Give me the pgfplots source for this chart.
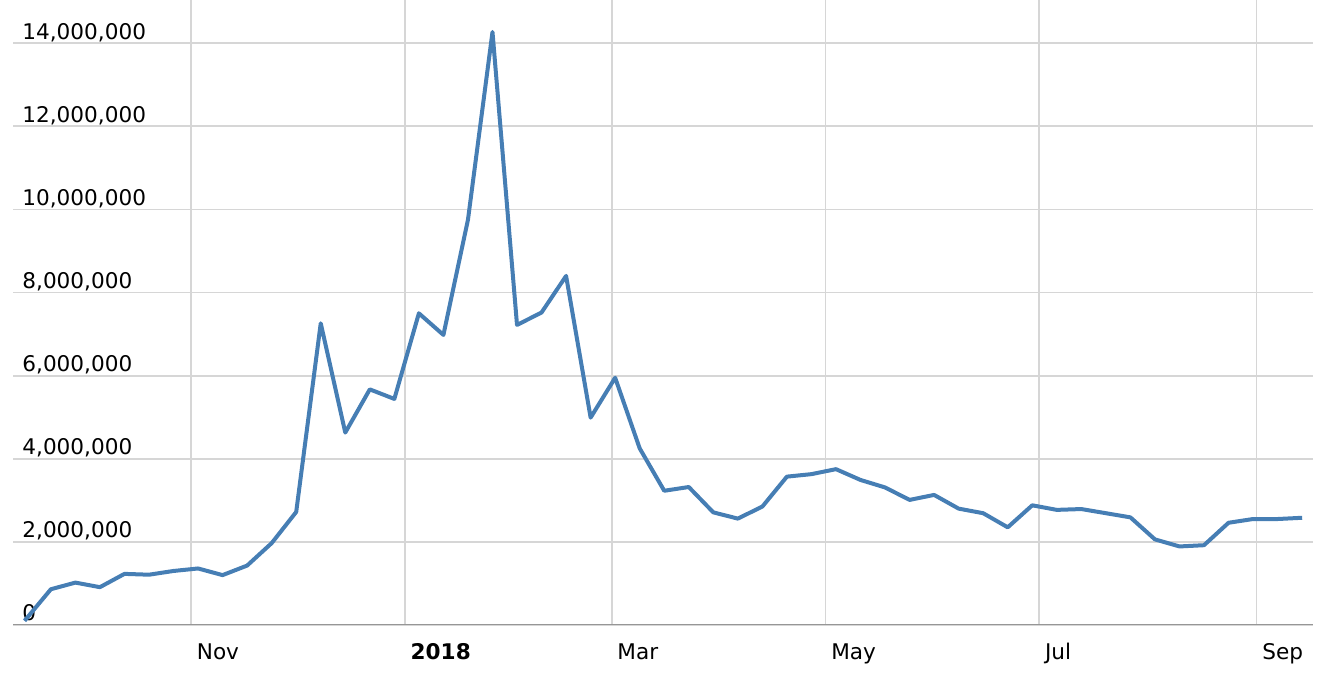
\documentclass[border=0pt]{standalone}
\usepackage{fontspec}
\setmainfont{DejaVu Sans}
\usepackage{pgfplots}
\pgfplotsset{compat=1.18}
\definecolor{lineblue}{RGB}{70,126,180}
\definecolor{gridgray}{RGB}{214,214,214}
\definecolor{axisgray}{RGB}{150,150,150}
\begin{document}
\begin{tikzpicture}[x=1pt,y=1pt]
\begin{axis}[
  at={(0,0)}, anchor=south west,
  scale only axis,
  width=650pt, height=312.5pt,
  xmin=-50.8, xmax=320.1,
  ymin=0, ymax=15040000,
  axis line style={draw=none},
  major tick length=0pt,
  xtick={0,61,120,181,242,304},
  xticklabels={Nov,\textbf{2018},Mar,May,Jul,Sep},
  ytick={0,2000000,4000000,6000000,8000000,10000000,12000000,14000000},
  scaled y ticks=false,
  /pgf/number format/fixed,
  /pgf/number format/precision=0,
  /pgf/number format/1000 sep={,},
  /pgf/number format/assume math mode=true,
  xmajorgrids, ymajorgrids,
  major grid style={draw=gridgray, line width=0.9pt},
  ticklabel style={font=\fontsize{10.8}{12}\selectfont},
  yticklabel style={anchor=base west, inner sep=0pt, xshift=4.5pt, yshift=2pt},
  xticklabel style={anchor=base west, inner sep=0pt, xshift=2.7pt, yshift=-17.5pt},
]
\addplot[lineblue, line width=2pt, line join=round] coordinates {
(-47.5,100000) (-40,860000) (-33,1020000) (-26,910000) (-19,1230000) (-12,1210000)
(-5,1300000) (2,1360000) (9,1200000) (16,1430000) (23,1970000) (30,2720000)
(37,7260000) (44,4630000) (51,5670000) (58,5440000) (65,7500000) (72,6980000)
(79,9750000) (86,14270000) (93,7220000) (100,7520000) (107,8400000) (114,4990000)
(121,5950000) (128,4250000) (135,3230000) (142,3320000) (149,2710000) (156,2560000)
(163,2850000) (170,3570000) (177,3630000) (184,3750000) (191,3490000) (198,3310000)
(205,3010000) (212,3130000) (219,2800000) (226,2690000) (233,2350000) (240,2880000)
(247,2770000) (254,2790000) (261,2690000) (268,2590000) (275,2060000) (282,1890000)
(289,1920000) (296,2460000) (303,2550000) (310,2550000) (317,2580000)
};
\draw[axisgray, line width=1pt] (rel axis cs:0,0) -- (rel axis cs:1,0);
\end{axis}
\pgfresetboundingbox
\path[use as bounding box] (-6.5pt,-31.5pt) rectangle (660.5pt,312.5pt);
\end{tikzpicture}
\end{document}
